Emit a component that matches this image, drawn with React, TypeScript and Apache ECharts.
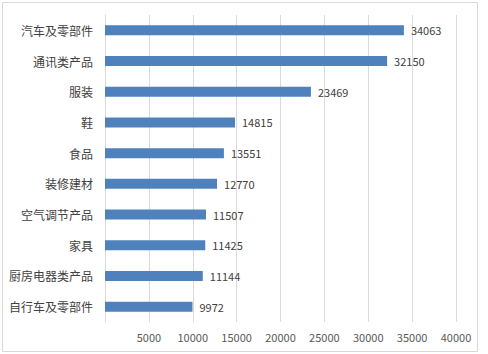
import React, { useEffect, useRef } from "react";
import * as echarts from "echarts";

const categories = [
  "汽车及零部件",
  "通讯类产品",
  "服装",
  "鞋",
  "食品",
  "装修建材",
  "空气调节产品",
  "家具",
  "厨房电器类产品",
  "自行车及零部件",
];
const values = [34063, 32150, 23469, 14815, 13551, 12770, 11507, 11425, 11144, 9972];

const FONT = "'Noto Sans CJK SC', 'Microsoft YaHei', sans-serif";

export default function App() {
  const ref = useRef<HTMLDivElement>(null);
  useEffect(() => {
    if (!ref.current) return;
    const chart = echarts.init(ref.current, undefined, { renderer: "svg" });
    chart.setOption({
      animation: false,
      backgroundColor: "#ffffff",
      grid: { left: 105, right: 32, top: 15, bottom: 32, containLabel: false },
      graphic: [
        {
          type: "rect",
          shape: { x: 2.5, y: 2.5, width: 475, height: 349 },
          style: { fill: "none", stroke: "#d9d9d9", lineWidth: 1 },
          silent: true,
        },
      ],
      xAxis: {
        type: "value",
        min: 0,
        max: 40000,
        interval: 5000,
        axisLine: { show: false },
        axisTick: { show: false },
        splitLine: { show: true, lineStyle: { color: "#d9d9d9", width: 1 } },
        axisLabel: {
          showMinLabel: false,
          color: "#595959",
          fontSize: 11,
          fontFamily: FONT,
          margin: 9,
          formatter: (v: number) => (v === 0 ? "" : String(v)),
        },
      },
      yAxis: {
        type: "category",
        data: categories,
        inverse: true,
        axisLine: { show: true, lineStyle: { color: "#d9d9d9", width: 1 } },
        axisTick: { show: false },
        axisLabel: {
          color: "#404040",
          fontSize: 12,
          fontFamily: FONT,
          margin: 12,
        },
      },
      series: [
        {
          type: "bar",
          data: values,
          barWidth: 10,
          itemStyle: { color: "#4f81bd" },
          label: {
            show: true,
            position: "right",
            distance: 7,
            color: "#404040",
            fontSize: 11,
            fontFamily: FONT,
          },
        },
      ],
    });
    return () => chart.dispose();
  }, []);
  return (
    <div
      ref={ref}
      style={{ position: "fixed", left: 0, top: 0, width: 488, height: 354 }}
    />
  );
}
